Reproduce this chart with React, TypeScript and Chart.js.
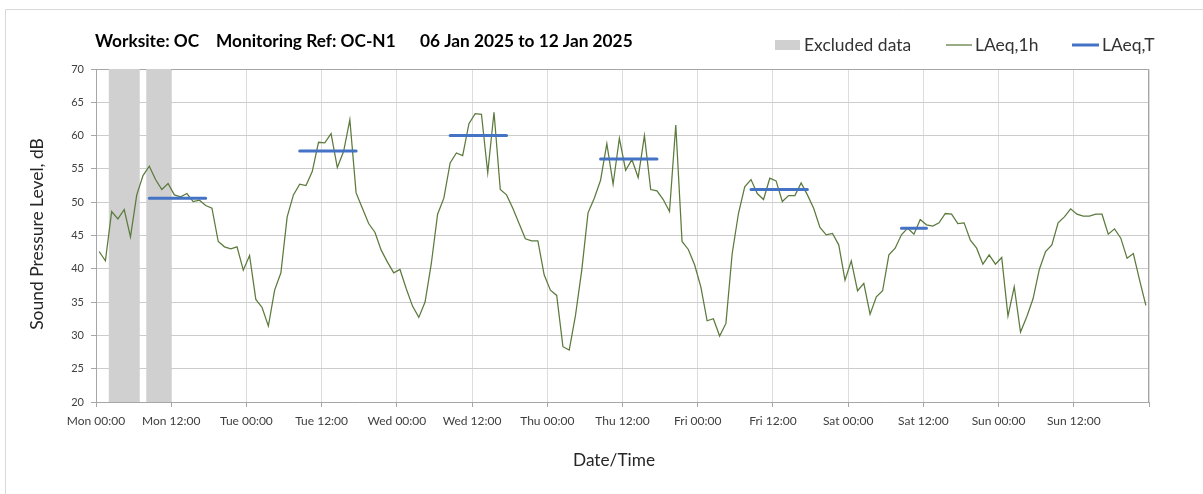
import React, { useEffect, useRef } from "react";
import { Chart, registerables } from "chart.js";
Chart.register(...registerables);

const dayLabels = [
  "Mon 00:00", "Mon 12:00", "Tue 00:00", "Tue 12:00", "Wed 00:00", "Wed 12:00",
  "Thu 00:00", "Thu 12:00", "Fri 00:00", "Fri 12:00", "Sat 00:00", "Sat 12:00",
  "Sun 00:00", "Sun 12:00",
];

// Hourly LAeq,1h values, Mon 00:00 .. Sun 23:00
const laeq1h = [
  42.6, 41.2, 48.6, 47.5, 48.9, 44.8, 51.1, 54.0, 55.4, 53.4, 51.9, 52.8,
  51.1, 50.8, 51.3, 50.1, 50.3, 49.5, 49.1, 44.1, 43.3, 43.0, 43.3, 39.8,
  42.0, 35.4, 34.2, 31.4, 36.8, 39.4, 47.8, 51.1, 52.7, 52.5, 54.6, 59.0,
  58.9, 60.3, 55.2, 57.6, 62.4, 51.4, 49.1, 46.8, 45.5, 42.8, 41.0, 39.4,
  39.9, 37.0, 34.4, 32.7, 35.0, 40.8, 48.2, 50.6, 55.9, 57.4, 57.0, 61.8,
  63.3, 63.2, 54.4, 63.5, 51.9, 51.1, 49.1, 46.8, 44.5, 44.2, 44.2, 39.1,
  36.8, 36.0, 28.3, 27.8, 33.0, 39.8, 48.4, 50.6, 53.3, 58.8, 52.7, 59.6,
  54.8, 56.4, 53.7, 60.0, 51.9, 51.7, 50.4, 48.6, 61.6, 44.1, 42.9, 40.6,
  37.3, 32.2, 32.5, 29.9, 31.8, 42.3, 48.3, 52.3, 53.4, 51.3, 50.4, 53.6,
  53.2, 50.1, 51.0, 51.0, 52.9, 51.1, 49.1, 46.2, 45.1, 45.3, 43.6, 38.3,
  41.2, 36.7, 37.8, 33.2, 35.8, 36.7, 42.1, 43.1, 45.1, 46.1, 45.2, 47.4,
  46.6, 46.4, 46.9, 48.3, 48.2, 46.8, 46.9, 44.3, 43.1, 40.7, 42.1, 40.7,
  41.7, 32.9, 37.3, 30.5, 32.8, 35.5, 39.9, 42.6, 43.6, 46.9, 47.8, 49.0,
  48.2, 47.9, 47.9, 48.2, 48.2, 45.2, 46.0, 44.6, 41.6, 42.3, 38.3, 34.5,
];

// LAeq,T periods (hour index of first and last hour) and levels
const periodStartHour = [8, 32, 56, 80, 104, 128];
const periodEndHour = [17, 41, 65, 89, 113, 132];
const laeqT = [50.6, 57.7, 60.0, 56.5, 51.9, 46.1];

// Excluded data bands (hours)
const excludedStart = [2, 8];
const excludedEnd = [7, 12];

const Y_MIN = 20;
const Y_MAX = 70;
const FONT = "Lato";

const GREEN = "#5b7a3c";
const BLUE = "#4472C4";
const BAND = "#d0d0d0";

function fitSize(ctx: CanvasRenderingContext2D, text: string, width: number, weight: string) {
  ctx.font = `${weight} 100px ${FONT}`;
  const w = ctx.measureText(text).width;
  return (100 * width) / w;
}

const decorPlugin = {
  id: "decor",
  beforeDraw(chart: any) {
    const ctx: CanvasRenderingContext2D = chart.ctx;
    ctx.save();
    ctx.strokeStyle = "#d9d9d9";
    ctx.lineWidth = 1;
    ctx.beginPath();
    ctx.moveTo(5.5, 494);
    ctx.lineTo(5.5, 9.5);
    ctx.lineTo(1203, 9.5);
    ctx.stroke();
    ctx.restore();
  },
  beforeDatasetsDraw(chart: any) {
    const ctx: CanvasRenderingContext2D = chart.ctx;
    const a = chart.chartArea;
    ctx.save();
    ctx.strokeStyle = "#a6a6a6";
    ctx.lineWidth = 1;
    ctx.beginPath();
    ctx.moveTo(Math.round(a.left) + 0.5, Math.round(a.top) + 0.5);
    ctx.lineTo(Math.round(a.right) - 0.5, Math.round(a.top) + 0.5);
    ctx.lineTo(Math.round(a.right) - 0.5, Math.round(a.bottom));
    ctx.stroke();
    ctx.restore();
  },
  afterDraw(chart: any) {
    const ctx: CanvasRenderingContext2D = chart.ctx;
    ctx.save();
    // Title
    const titleParts = ["Worksite: OC", "Monitoring Ref: OC-N1", "06 Jan 2025 to 12 Jan 2025"];
    const titleX = [95, 216, 420];
    const titleW = [106, 183, 205];
    let ts = 0;
    titleParts.forEach((t, i) => (ts += fitSize(ctx, t, titleW[i], "bold")));
    ts /= titleParts.length;
    ctx.font = `bold ${ts.toFixed(2)}px ${FONT}`;
    ctx.fillStyle = "#000";
    ctx.textBaseline = "alphabetic";
    ctx.textAlign = "left";
    titleParts.forEach((t, i) => ctx.fillText(t, titleX[i], 47));

    // Legend
    const legTexts = ["Excluded data", "LAeq,1h", "LAeq,T"];
    const legX = [804, 975, 1102];
    const legW = [107, 62, 54];
    let ls = 0;
    legTexts.forEach((t, i) => (ls += fitSize(ctx, t, legW[i], "normal")));
    ls /= legTexts.length;
    const ly = 45;
    ctx.fillStyle = BAND;
    ctx.fillRect(775, 40, 25, 10);
    ctx.strokeStyle = GREEN;
    ctx.lineWidth = 1.25;
    ctx.beginPath();
    ctx.moveTo(946, ly);
    ctx.lineTo(972, ly);
    ctx.stroke();
    ctx.strokeStyle = BLUE;
    ctx.lineWidth = 3;
    ctx.beginPath();
    ctx.moveTo(1072, ly);
    ctx.lineTo(1099, ly);
    ctx.stroke();
    ctx.font = `normal ${ls.toFixed(2)}px ${FONT}`;
    ctx.fillStyle = "#333";
    ctx.textBaseline = "middle";
    legTexts.forEach((t, i) => ctx.fillText(t, legX[i], ly + 0.5));

    // Axis titles
    const xs = fitSize(ctx, "Date/Time", 82, "normal");
    ctx.font = `normal ${xs.toFixed(2)}px ${FONT}`;
    ctx.fillStyle = "#262626";
    ctx.textAlign = "center";
    ctx.fillText("Date/Time", 614, 460);

    const ys = fitSize(ctx, "Sound Pressure Level, dB", 192, "normal");
    ctx.font = `normal ${ys.toFixed(2)}px ${FONT}`;
    ctx.translate(37, 234);
    ctx.rotate(-Math.PI / 2);
    ctx.fillText("Sound Pressure Level, dB", 0, 0);
    ctx.restore();
  },
};

export default function App() {
  const ref = useRef<HTMLCanvasElement | null>(null);

  useEffect(() => {
    document.body.style.margin = "0";
    const canvas = ref.current;
    if (!canvas) return;

    const hourlyData = laeq1h.map((v, i) => ({ x: i + 0.5, y: v }));

    const periodData: { x: number; y: number | null }[] = [];
    laeqT.forEach((v, k) => {
      periodData.push({ x: periodStartHour[k] + 0.5, y: v });
      periodData.push({ x: periodEndHour[k] + 0.5, y: v });
      periodData.push({ x: periodEndHour[k] + 1, y: null });
    });

    const bandData: { x: number; y: number | null }[] = [];
    excludedStart.forEach((s, k) => {
      bandData.push({ x: s, y: Y_MAX });
      bandData.push({ x: excludedEnd[k], y: Y_MAX });
      bandData.push({ x: excludedEnd[k] + 0.25, y: null });
    });

    const chart = new Chart(canvas, {
      type: "line",
      data: {
        datasets: [
          {
            label: "LAeq,T",
            data: periodData,
            borderColor: BLUE,
            borderWidth: 3,
            borderCapStyle: "round",
            pointRadius: 0,
            spanGaps: false,
            fill: false,
          },
          {
            label: "LAeq,1h",
            data: hourlyData,
            borderColor: GREEN,
            borderWidth: 1.25,
            pointRadius: 0,
            tension: 0,
            fill: false,
          },
          {
            label: "Excluded data",
            data: bandData,
            borderColor: "rgba(0,0,0,0)",
            borderWidth: 0,
            backgroundColor: BAND,
            pointRadius: 0,
            spanGaps: false,
            fill: "start",
          },
        ] as any,
      },
      options: {
        responsive: false,
        devicePixelRatio: 1,
        animation: false,
        parsing: true,
        layout: { padding: { left: 0, top: 69, right: 54, bottom: 0 } },
        plugins: {
          legend: { display: false },
          title: { display: false },
          tooltip: { enabled: false },
        },
        scales: {
          x: {
            type: "linear",
            min: 0,
            max: 168,
            offset: false,
            afterFit: (s: any) => {
              s.height = 92;
            },
            ticks: {
              stepSize: 12,
              autoSkip: false,
              maxRotation: 0,
              minRotation: 0,
              padding: 7,
              color: "#404040",
              font: { family: FONT, size: 12 },
              callback: (v: any) => {
                const idx = Math.round(Number(v) / 12);
                return dayLabels[idx] ?? "";
              },
            },
            grid: {
              color: "#dcdcdc",
              tickColor: "#a6a6a6",
              tickLength: 5,
              lineWidth: 1,
            },
            border: { display: true, color: "#a6a6a6", width: 1 },
          },
          y: {
            type: "linear",
            min: Y_MIN,
            max: Y_MAX,
            afterFit: (s: any) => {
              s.width = 96;
            },
            ticks: {
              stepSize: 5,
              padding: 7,
              color: "#404040",
              font: { family: FONT, size: 11 },
            },
            grid: {
              color: "#cccccc",
              tickColor: "#a6a6a6",
              tickLength: 5,
              lineWidth: 1,
            },
            border: { display: true, color: "#a6a6a6", width: 1 },
          },
        },
      } as any,
      plugins: [decorPlugin],
    });

    return () => chart.destroy();
  }, []);

  return (
    <div style={{ width: 1203, height: 494, position: "relative", background: "#fff" }}>
      <canvas ref={ref} width={1203} height={494} style={{ display: "block", width: 1203, height: 494 }} />
    </div>
  );
}
